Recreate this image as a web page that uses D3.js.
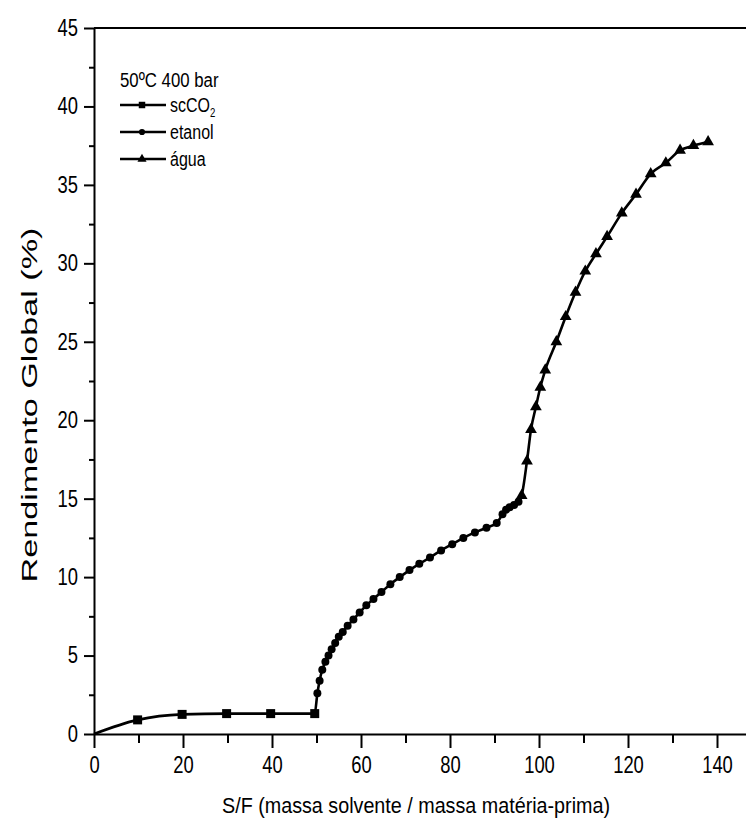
<!DOCTYPE html>
<html lang="pt">
<head>
    <meta charset="UTF-8">
    <script src="https://d3js.org/d3.v7.min.js"></script>
    <style>
        body { margin: 0; background: #fff; }
        text { font-family: "Liberation Sans", Arial, sans-serif; fill: #000; }
    </style>
</head>
<body>
    <svg id="chart" width="746" height="837"></svg>
    <script>
        // valores: [S/F, rendimento %]
        const scco2 = [[0, 0], [9.8, 0.9], [19.8, 1.25], [29.8, 1.3], [39.7, 1.3], [49.6, 1.3]];
        const etanol = [[50.2, 2.6], [50.7, 3.4], [51.3, 4.1], [52.0, 4.6], [52.7, 5.0], [53.4, 5.4],
            [54.2, 5.8], [55.0, 6.2], [55.9, 6.5], [57.0, 6.9], [58.3, 7.3], [59.7, 7.75], [61.2, 8.2],
            [62.8, 8.6], [64.6, 9.05], [66.6, 9.55], [68.7, 10.0], [70.9, 10.45], [73.1, 10.85],
            [75.5, 11.25], [78.0, 11.7], [80.5, 12.1], [83.0, 12.5], [85.6, 12.85], [88.2, 13.15],
            [90.5, 13.45], [91.8, 14.0], [92.6, 14.3], [93.4, 14.45], [94.4, 14.6], [95.4, 14.8]];
        const agua = [[96.1, 15.2], [97.3, 17.4], [98.2, 19.4], [99.3, 20.85], [100.3, 22.1], [101.4, 23.2],
            [103.9, 25.0], [106.0, 26.6], [108.2, 28.15], [110.4, 29.5], [112.8, 30.6], [115.3, 31.7],
            [118.6, 33.2], [121.8, 34.4], [125.1, 35.7], [128.5, 36.4], [131.7, 37.2], [134.7, 37.5],
            [138.0, 37.75]];
        const xTicks = [0, 20, 40, 60, 80, 100, 120, 140];
        const yTicks = [0, 5, 10, 15, 20, 25, 30, 35, 40, 45];

        const width = 746, height = 837;
        const margin = { top: 28, right: 0, bottom: 103, left: 94 };
        const sx = 0.8; // fonte estreita

        const svg = d3.select("#chart");

        const x = d3.scaleLinear()
            .domain([0, (width - margin.left) / 4.45])
            .range([margin.left, width - margin.right]);
        const y = d3.scaleLinear()
            .domain([0, 45])
            .range([height - margin.bottom, margin.top]);

        // eixo x
        const gx = svg.append("g")
            .attr("transform", `translate(0,${height - margin.bottom})`)
            .call(d3.axisBottom(x).tickValues(d3.range(10, 141, 20)).tickSize(9).tickFormat(""));
        gx.select(".domain").remove();
        gx.selectAll("line").attr("stroke", "#000").attr("stroke-width", 2);
        const gx2 = svg.append("g")
            .attr("transform", `translate(0,${height - margin.bottom})`)
            .call(d3.axisBottom(x).tickValues(xTicks).tickSize(14).tickPadding(9).tickSizeOuter(0));
        gx2.selectAll("text").style("font-size", "23px").attr("transform", `scale(${sx},1)`);
        gx2.selectAll("line, path").attr("stroke", "#000").attr("stroke-width", 2);

        // eixo y
        const gy = svg.append("g")
            .attr("transform", `translate(${margin.left},0)`)
            .call(d3.axisLeft(y).tickValues(d3.range(2.5, 45, 5)).tickSize(5).tickFormat(""));
        gy.select(".domain").remove();
        gy.selectAll("line").attr("stroke", "#000").attr("stroke-width", 2);
        const gy2 = svg.append("g")
            .attr("transform", `translate(${margin.left},0)`)
            .call(d3.axisLeft(y).tickValues(yTicks).tickSize(10).tickPadding(6).tickSizeOuter(0));
        gy2.selectAll("text").style("font-size", "23px")
            .attr("x", -16 / sx).attr("transform", `scale(${sx},1)`);
        gy2.selectAll("line, path").attr("stroke", "#000").attr("stroke-width", 2);

        // linha superior
        svg.append("line")
            .attr("x1", margin.left).attr("x2", width)
            .attr("y1", y(45)).attr("y2", y(45))
            .attr("stroke", "#000").attr("stroke-width", 2);

        // curva
        const all = scco2.concat(etanol, agua);
        svg.append("path")
            .datum(all)
            .attr("fill", "none")
            .attr("stroke", "#000")
            .attr("stroke-width", 2.6)
            .attr("d", d3.line().x(d => x(d[0])).y(d => y(d[1])).curve(d3.curveMonotoneX));

        const sym = {
            sq: d3.symbol().type(d3.symbolSquare).size(81),
            ci: d3.symbol().type(d3.symbolCircle).size(50),
            tr: d3.symbol().type(d3.symbolTriangle).size(60)
        };
        svg.selectAll(".sq").data(scco2.slice(1)).enter().append("path")
            .attr("transform", d => `translate(${x(d[0])},${y(d[1])})`).attr("d", sym.sq()).attr("fill", "#000");
        svg.selectAll(".ci").data(etanol).enter().append("path")
            .attr("transform", d => `translate(${x(d[0])},${y(d[1])})`).attr("d", sym.ci()).attr("fill", "#000");
        svg.selectAll(".tr").data(agua).enter().append("path")
            .attr("transform", d => `translate(${x(d[0])},${y(d[1])})`).attr("d", sym.tr()).attr("fill", "#000");

        // legenda
        const leg = svg.append("g");
        leg.append("text").attr("transform", `translate(120,87) scale(${sx},1)`)
            .style("font-size", "21px").text("50ºC  400 bar");
        const legSym = {
            sq: d3.symbol().type(d3.symbolSquare).size(42),
            ci: d3.symbol().type(d3.symbolCircle).size(30),
            tr: d3.symbol().type(d3.symbolTriangle).size(36)
        };
        const items = [
            { k: "sq", ty: 105, t: "scCO", sub: "2" },
            { k: "ci", ty: 132, t: "etanol" },
            { k: "tr", ty: 159, t: "água" }
        ];
        items.forEach(it => {
            leg.append("line").attr("x1", 120).attr("x2", 166).attr("y1", it.ty).attr("y2", it.ty)
                .attr("stroke", "#000").attr("stroke-width", 2.6);
            leg.append("path").attr("transform", `translate(142,${it.ty})`).attr("d", legSym[it.k]()).attr("fill", "#000");
            const t = leg.append("text").attr("transform", `translate(170,${it.ty + 7}) scale(${sx},1)`)
                .style("font-size", "20px").text(it.t);
            if (it.sub) t.append("tspan").attr("dy", 5).style("font-size", "12px").text(it.sub);
        });

        // títulos dos eixos
        svg.append("text")
            .attr("x", 416).attr("y", 813)
            .attr("text-anchor", "middle")
            .attr("textLength", 388).attr("lengthAdjust", "spacingAndGlyphs")
            .style("font-size", "22px")
            .text("S/F (massa solvente / massa matéria-prima)");
        svg.append("text")
            .attr("transform", "translate(37,405) rotate(-90)")
            .attr("text-anchor", "middle")
            .attr("textLength", 355).attr("lengthAdjust", "spacingAndGlyphs")
            .style("font-size", "22px")
            .text("Rendimento Global (%)");
    </script>
</body>
</html>
